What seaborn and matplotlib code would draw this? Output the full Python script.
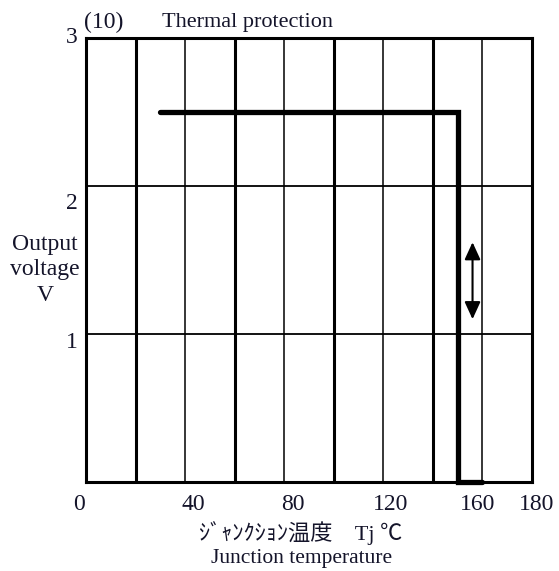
import matplotlib
matplotlib.use("Agg")
import matplotlib.pyplot as plt
import matplotlib.transforms as mtrans
import seaborn as sns
import pandas as pd

# Data
temp_c = [30, 150, 150, 160]
output_v = [2.5, 2.5, 0.0, 0.0]
x_ticks = [0, 40, 80, 120, 160, 180]
x_ticklabels = ["0", "40", "80", "120", "160", "180"]
y_ticks = [1, 2, 3]
y_ticklabels = ["1", "2", "3"]
thick_grid_x = [20, 60, 100, 140]
thin_grid_x = [40, 80, 120, 160]
grid_y = [1, 2]
arrow_x = 156
arrow_y = [1.1, 1.62]

# label nudges (pixels) to mimic the hand-placed labels of the original
x_label_dx = [-7, 8, 9, 7, -5, 5]
y_label_dy = [6, 15, -3]

sns.set_style("white")
serif = ["Liberation Serif", "Noto Sans CJK JP", "DejaVu Sans"]
plt.rcParams["font.family"] = serif
txt = "#14142a"

fig = plt.figure(figsize=(5.59, 5.71), dpi=100)
ax = fig.add_axes([86 / 559, 1 - 482 / 571, (532 - 86) / 559, (482 - 38) / 571])

for xv in thick_grid_x:
    ax.axvline(xv, color="black", lw=2.2, zorder=1)
for xv in thin_grid_x:
    ax.axvline(xv, color="black", lw=1.1, zorder=1)
for yv in grid_y:
    ax.axhline(yv, color="black", lw=1.3, zorder=1)

df = pd.DataFrame({"Tj": temp_c, "V": output_v})
sns.lineplot(data=df, x="Tj", y="V", sort=False, estimator=None, color="black",
             lw=3.8, ax=ax, zorder=3, solid_capstyle="round",
             solid_joinstyle="miter", clip_on=False)

ax.annotate("", xy=(arrow_x, arrow_y[1]), xytext=(arrow_x, arrow_y[0]),
            arrowprops=dict(arrowstyle="<|-|>,head_length=0.7,head_width=0.32",
                            color="black", lw=1.5,
                            mutation_scale=15, shrinkA=0, shrinkB=0))

ax.set_xlim(0, 180)
ax.set_ylim(0, 3)
ax.set_xticks(x_ticks)
ax.set_xticklabels(x_ticklabels)
ax.set_yticks(y_ticks)
ax.set_yticklabels(y_ticklabels)
ax.tick_params(axis="both", length=0, labelsize=17, colors=txt, labelcolor=txt)
ax.tick_params(axis="x", pad=9)
ax.tick_params(axis="y", pad=6)
for lab, dx in zip(ax.get_xticklabels(), x_label_dx):
    lab.set_color(txt)
    lab.set_transform(lab.get_transform() +
                      mtrans.ScaledTranslation(dx / 100, 0, fig.dpi_scale_trans))
for lab, dy in zip(ax.get_yticklabels(), y_label_dy):
    lab.set_color(txt)
    lab.set_transform(lab.get_transform() +
                      mtrans.ScaledTranslation(0, -dy / 100, fig.dpi_scale_trans))
ax.set_xlabel("")
ax.set_ylabel("")
for s in ax.spines.values():
    s.set_visible(True)
    s.set_color("black")
    s.set_linewidth(2.2)

fig.text(45 / 559, 1 - 270 / 571, "Output\nvoltage\nV", ha="center", va="center",
         fontsize=17, color=txt, linespacing=1.3)
fig.text(104 / 559, 1 - 22 / 571, "(10)", ha="center", va="center", fontsize=17, color=txt)
fig.text(247 / 559, 1 - 23 / 571, "Thermal protection", ha="center", va="center",
         fontsize=16, color=txt)
fig.text(301 / 559, 1 - 533 / 571, "ｼﾞｬﾝｸｼｮﾝ温度　Tj ℃", ha="center", va="center",
         fontsize=16, color=txt)
fig.text(302 / 559, 1 - 559 / 571, "Junction temperature", ha="center", va="center",
         fontsize=15.5, color=txt)

fig.savefig("out.png", dpi=100)
